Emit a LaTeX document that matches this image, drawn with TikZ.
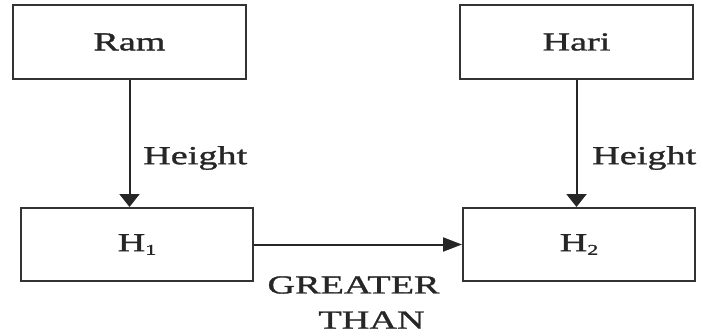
\documentclass[tikz,border=0pt]{standalone}
\usepackage{fontspec}
\setmainfont[FakeStretch=1.47,FakeBold=1.2]{Liberation Serif}
\usetikzlibrary{arrows.meta}
\newcommand{\mysub}[1]{\raisebox{-0.3ex}{\fontsize{15}{18}\selectfont #1}}
\begin{document}
\begin{tikzpicture}[x=1pt,y=-1pt,
  box/.style={draw=black!80,line width=2pt,minimum width=233pt,minimum height=74pt,inner sep=0pt,font=\fontsize{26}{30}\selectfont,text=black!85},
  lbl/.style={font=\fontsize{26}{30}\selectfont,text=black!85,inner sep=0pt},
  conn/.style={draw=black!85,line width=2pt},
  vhead/.style={-{Triangle[length=13pt,width=20pt]}},
  hhead/.style={-{Triangle[length=19pt,width=14pt]}}]
\useasboundingbox (0,0) rectangle (703,335);
\node[box] (ram) at (129.5,42) {Ram};
\node[box] (hari) at (576.5,42) {Hari};
\node[box,minimum width=232pt,minimum height=73pt] (h1) at (137,244.5) {H\mysub{1}};
\node[box,minimum width=232pt,minimum height=73pt] (h2) at (579,244.5) {H\mysub{2}};
\draw[conn,vhead] (ram.south) -- (ram.south |- h1.north);
\draw[conn,vhead] (hari.south) -- (hari.south |- h2.north);
\draw[conn,hhead] (h1.east) -- (h2.west);
\node[lbl,anchor=west] (ht1) at (143,158) {Height};
\node[lbl,anchor=west] (ht2) at (592,158) {Height};
\node[lbl] (gt1) at (353.5,285) {GREATER};
\node[lbl] (gt2) at (371.5,320) {THAN};
\end{tikzpicture}
\end{document}
